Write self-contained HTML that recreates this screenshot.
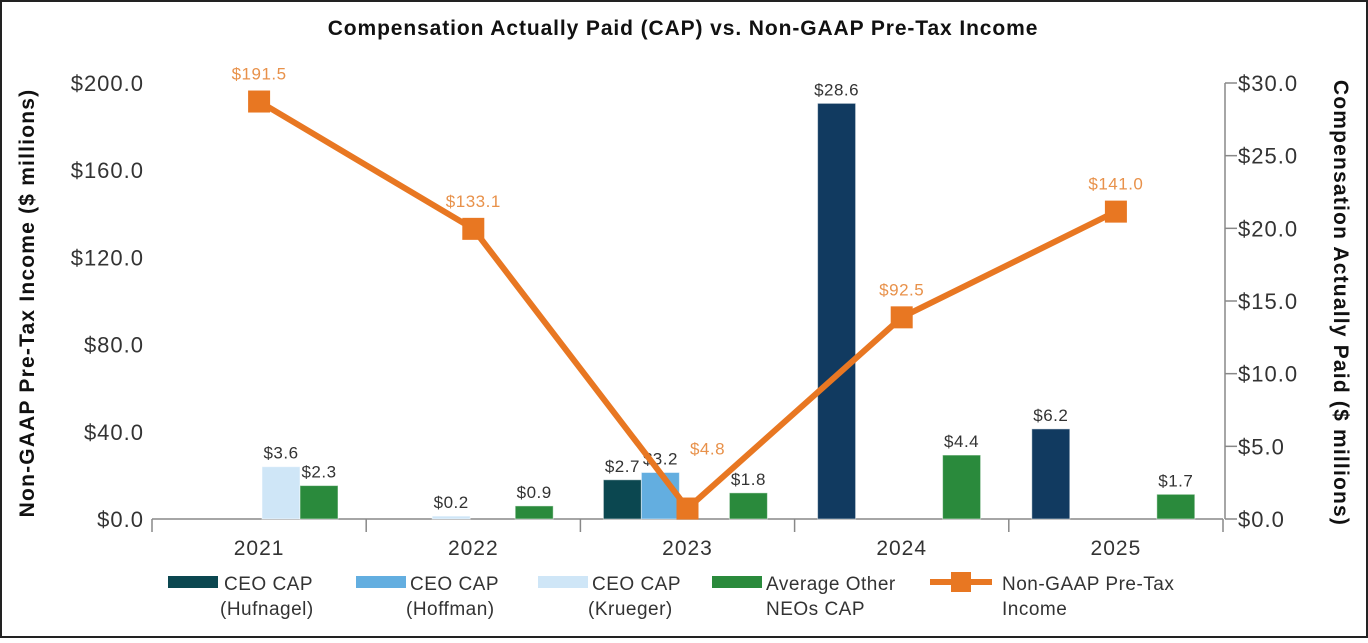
<!DOCTYPE html>
<html><head><meta charset="utf-8"><style>
html,body{margin:0;padding:0;background:#fff}
body{width:1368px;height:638px;overflow:hidden;font-family:"Liberation Sans",sans-serif}
svg text{font-family:"Liberation Sans",sans-serif}
</style></head><body>
<svg id="chart" width="1368" height="638" viewBox="0 0 1368 638" xmlns="http://www.w3.org/2000/svg">
<rect x="1" y="1" width="1366" height="636" fill="#fff" stroke="#222" stroke-width="2"/>
<text x="683" y="35" text-anchor="middle" font-size="21" font-weight="bold" letter-spacing="0.9" fill="#111">Compensation Actually Paid (CAP) vs. Non-GAAP Pre-Tax Income</text>
<text transform="translate(34,303) rotate(-90)" text-anchor="middle" font-size="21" font-weight="bold" letter-spacing="1.2" fill="#111">Non-GAAP Pre-Tax Income ($ millions)</text>
<text transform="translate(1334,303) rotate(90)" text-anchor="middle" font-size="21" font-weight="bold" letter-spacing="1.2" fill="#111">Compensation Actually Paid ($ millions)</text>
<g id="axes"></g><g id="bars"></g><g id="line"></g>
<g font-size="19" fill="#333" letter-spacing="0.5">
<rect x="168" y="576" width="50" height="12" fill="#0b4750"/>
<text x="224" y="590" fill="#333">CEO CAP</text><text x="220" y="615" fill="#333">(Hufnagel)</text>
<rect x="356" y="576" width="50" height="12" fill="#63aee0"/>
<text x="410" y="590" fill="#333">CEO CAP</text><text x="406" y="615" fill="#333">(Hoffman)</text>
<rect x="538" y="576" width="50" height="12" fill="#cfe6f7"/>
<text x="592" y="590" fill="#333">CEO CAP</text><text x="588" y="615" fill="#333">(Krueger)</text>
<rect x="712" y="576" width="50" height="12" fill="#2a8a3c"/>
<text x="766" y="590" fill="#333">Average Other</text><text x="766" y="615" fill="#333">NEOs CAP</text>
<line x1="930" y1="582" x2="992" y2="582" stroke="#e87722" stroke-width="6"/>
<rect x="951" y="572" width="20" height="20" fill="#e87722"/>
<text x="1002" y="590" fill="#333">Non-GAAP Pre-Tax</text><text x="1002" y="615" fill="#333">Income</text>
</g>
</svg>
<script>
const categories=["2021","2022","2023","2024","2025"];
const hufnagel=[0,0,2.7,28.6,6.2];
const hoffman=[0,0,3.2,0,0];
const krueger=[3.6,0.2,0,0,0];
const neos=[2.3,0.9,1.8,4.4,1.7];
const income=[191.5,133.1,4.8,92.5,141.0];
const leftTicks=[0,40,80,120,160,200];
const rightTicks=[0,5,10,15,20,25,30];
const NS="http://www.w3.org/2000/svg";
const X0=152,CW=214.2,Y0=519,PH=436;
const yL=v=>Y0-v/200*PH, yR=v=>Y0-v/30*PH, catL=i=>X0+i*CW, catC=i=>X0+(i+0.5)*CW;
function mk(t,a,p,txt){const e=document.createElementNS(NS,t);for(const k in a)e.setAttribute(k,a[k]);if(txt!==undefined)e.textContent=txt;p.appendChild(e);return e;}
const ax=document.getElementById('axes');
let e=mk('line',{x1:X0,y1:Y0,x2:X0+5*CW,y2:Y0,stroke:'#888','stroke-width':1.5},ax);


e=mk('line',{x1:X0+5*CW+2,y1:yR(30),x2:X0+5*CW+2,y2:Y0,stroke:'#888','stroke-width':1.5},ax);


for(let i=0;i<=5;i++){mk('line',{x1:catL(i),y1:Y0,x2:catL(i),y2:Y0+13,stroke:'#888','stroke-width':1.5},ax);}
categories.forEach((c,i)=>{e=mk('text',{x:catC(i),y:Y0+36,'text-anchor':'middle','font-size':21,'letter-spacing':1,fill:'#333'},ax,c);

});
leftTicks.forEach(v=>{e=mk('text',{x:144,y:yL(v)+8,'text-anchor':'end','font-size':22,'letter-spacing':1,fill:'#333'},ax,'$'+v.toFixed(1));

});
rightTicks.forEach(v=>{mk('line',{x1:X0+5*CW+2,y1:yR(v),x2:X0+5*CW+14,y2:yR(v),stroke:'#888','stroke-width':1.5},ax);
e=mk('text',{x:1238,y:yR(v)+8,'font-size':22,'letter-spacing':1,fill:'#333'},ax,'$'+v.toFixed(1));

});
const bg=document.getElementById('bars');
const BW=38;
const offHuf=[23,23,23,23,23],offHof=[61,61,61,61,61],offKru=[110,66,99,99,99],offNeo=[148,149,149,148,148];
function bar(vals,offs,colorFn,name){vals.forEach((v,i)=>{if(!v)return;const x=catL(i)+offs[i],y=yR(v);
const r=mk('rect',{x:x,y:y,width:BW,height:Y0-y,fill:colorFn(i),stroke:'rgba(255,255,255,0.5)','stroke-width':1},bg);


const t=mk('text',{x:x+BW/2,y:y-8,'text-anchor':'middle','font-size':17,'letter-spacing':0.5,fill:'#333'},bg,'$'+v.toFixed(1));

});}
bar(krueger,offKru,()=>'#cfe6f7','krueger');
bar(neos,offNeo,()=>'#2a8a3c','neos');
bar(hufnagel,offHuf,i=>i===2?'#0b4750':'#113a60','hufnagel');
bar(hoffman,offHof,()=>'#63aee0','hoffman');
const lg=document.getElementById('line');
const pts=income.map((v,i)=>catC(i)+','+yL(v)).join(' ');
e=mk('polyline',{points:pts,fill:'none',stroke:'#e87722','stroke-width':6,'stroke-linejoin':'round'},lg);


income.forEach((v,i)=>{const x=catC(i),y=yL(v);
const r=mk('rect',{x:x-11,y:y-11,width:22,height:22,fill:'#e87722'},lg);


const t=mk('text',{x:i===2?x+20:x,y:i===2?y-54:y-22,'text-anchor':'middle','font-size':17,'letter-spacing':0.5,fill:'#e8914a'},lg,'$'+v.toFixed(1));

});
</script>
</body></html>
